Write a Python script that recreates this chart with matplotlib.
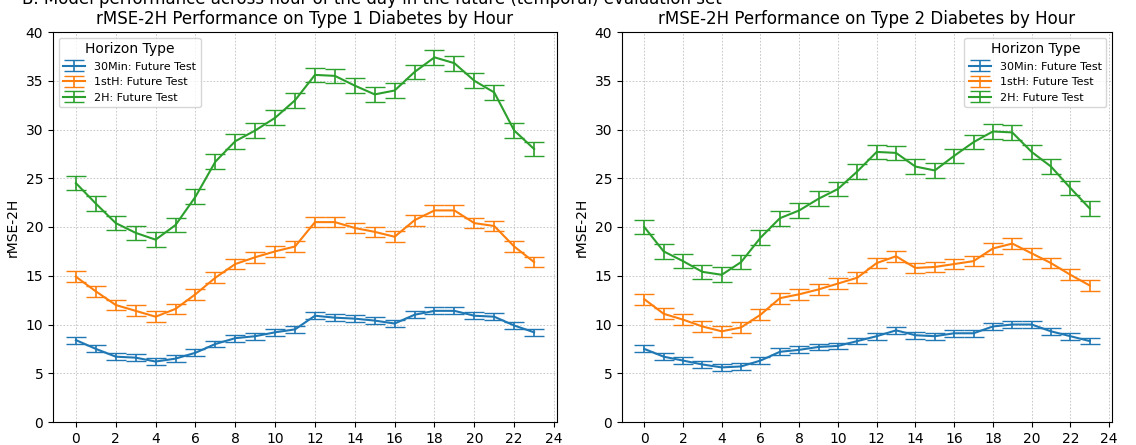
import matplotlib
matplotlib.use("Agg")
import matplotlib.pyplot as plt
import numpy as np

hours = list(range(24))

t1_30min = [8.4, 7.5, 6.7, 6.6, 6.2, 6.5, 7.1, 8.0, 8.6, 8.8, 9.2, 9.5,
            10.9, 10.7, 10.6, 10.4, 10.1, 11.0, 11.4, 11.4, 10.9, 10.8, 9.9, 9.2]
t1_1sth = [14.9, 13.4, 12.0, 11.4, 10.8, 11.6, 13.1, 14.8, 16.2, 16.9, 17.5, 18.0,
           20.5, 20.5, 19.9, 19.5, 19.0, 20.7, 21.7, 21.7, 20.4, 20.1, 18.0, 16.4]
t1_2h = [24.5, 22.4, 20.4, 19.4, 18.7, 20.2, 23.1, 26.7, 28.8, 29.9, 31.2, 33.0,
         35.6, 35.5, 34.5, 33.6, 34.0, 35.9, 37.4, 36.8, 35.0, 33.8, 29.9, 28.0]

t2_30min = [7.5, 6.7, 6.3, 5.9, 5.6, 5.7, 6.3, 7.2, 7.4, 7.7, 7.8, 8.3,
            8.8, 9.4, 8.9, 8.8, 9.1, 9.1, 9.8, 10.0, 10.0, 9.3, 8.8, 8.3]
t2_1sth = [12.6, 11.1, 10.5, 9.8, 9.3, 9.7, 11.0, 12.7, 13.1, 13.6, 14.2, 14.8,
           16.3, 17.0, 15.8, 15.9, 16.2, 16.5, 17.8, 18.3, 17.3, 16.3, 15.1, 14.0]
t2_2h = [20.0, 17.5, 16.5, 15.4, 15.1, 16.4, 18.9, 20.9, 21.7, 22.9, 23.9, 25.7,
         27.7, 27.6, 26.2, 25.8, 27.3, 28.7, 29.8, 29.7, 27.7, 26.2, 24.0, 21.9]

err_30min = 0.35
err_1sth = 0.55
err_2h = 0.75

labels = ["30Min: Future Test", "1stH: Future Test", "2H: Future Test"]
colors = ["#1f77b4", "#ff7f0e", "#2ca02c"]
titles = ["rMSE-2H Performance on Type 1 Diabetes by Hour",
          "rMSE-2H Performance on Type 2 Diabetes by Hour"]
suptitle = "B. Model performance across hour of the day in the future (temporal) evaluation set"

W, H = 1136, 445
fig = plt.figure(figsize=(W / 100, H / 100), dpi=100)
ax1 = fig.add_axes([53 / W, 23 / H, 504 / W, 390 / H])
ax2 = fig.add_axes([622 / W, 23 / H, 490 / W, 390 / H])

panels = [(ax1, [t1_30min, t1_1sth, t1_2h], "upper left"),
          (ax2, [t2_30min, t2_1sth, t2_2h], "upper right")]
errs = [err_30min, err_1sth, err_2h]

for (ax, series, loc), title in zip(panels, titles):
    for vals, e, lab, c in zip(series, errs, labels, colors):
        ax.errorbar(hours, vals, yerr=e, label=lab, color=c, capsize=7,
                    linewidth=1.5, elinewidth=1.2)
    ax.set_ylim(0, 40)
    ax.set_xticks(range(0, 25, 2))
    ax.set_ylabel("rMSE-2H")
    ax.set_title(title, fontsize=12)
    ax.grid(True, linestyle=(0, (2, 2)), color="#b0b0b0", linewidth=0.6, alpha=0.8)
    ax.legend(title="Horizon Type", loc=loc, fontsize=8, title_fontsize=10)

fig.text(22 / W, 1.0 + 1 / H, suptitle, fontsize=12, ha="left", va="center")

fig.savefig("out.png", dpi=100)
